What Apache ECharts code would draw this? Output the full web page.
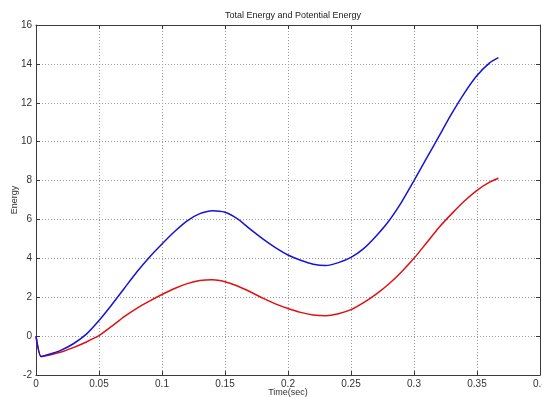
<!DOCTYPE html>
<html>
<head>
<meta charset="utf-8">
<style>
  html, body { margin: 0; padding: 0; background: #ffffff; }
  #chart { width: 542px; height: 397px; }
</style>
<script src="https://cdn.jsdelivr.net/npm/echarts@6/dist/echarts.min.js"></script>
</head>
<body>
<div id="chart"></div>
<script>
// Sample times (s)
const timeSec = [0, 0.004, 0.01, 0.02, 0.03, 0.04, 0.05, 0.06, 0.07, 0.08, 0.09, 0.10,
  0.11, 0.12, 0.13, 0.14, 0.15, 0.16, 0.17, 0.18, 0.19, 0.20, 0.21, 0.22, 0.23, 0.24,
  0.25, 0.26, 0.27, 0.28, 0.29, 0.30, 0.31, 0.32, 0.33, 0.34, 0.35, 0.36, 0.367];

// Total energy
const totalEnergy = [0, -1.05, -0.95, -0.72, -0.38, 0.1, 0.8, 1.6, 2.45, 3.3, 4.06, 4.74,
  5.38, 5.93, 6.3, 6.45, 6.37, 6.03, 5.5, 5.0, 4.55, 4.17, 3.9, 3.7, 3.63, 3.78,
  4.05, 4.5, 5.15, 5.92, 6.88, 8.0, 9.15, 10.3, 11.45, 12.5, 13.4, 14.05, 14.32];

// Potential energy
const potentialEnergy = [0, -1.05, -0.98, -0.82, -0.58, -0.3, 0.02, 0.5, 1.0, 1.43, 1.8, 2.14,
  2.45, 2.7, 2.86, 2.9, 2.8, 2.58, 2.28, 1.95, 1.66, 1.42, 1.22, 1.09, 1.05, 1.15,
  1.36, 1.72, 2.16, 2.68, 3.3, 4.0, 4.8, 5.6, 6.3, 6.95, 7.5, 7.92, 8.12];

const xTicks = { min: 0, max: 0.4, interval: 0.05 };
const yTicks = { min: -2, max: 16, interval: 2 };

const pairs = (ys) => timeSec.map((t, i) => [t, ys[i]]);

const axisColor = '#3a3a3a';
const font = '"Liberation Sans", Arial, sans-serif';

const gridLine = { show: true, lineStyle: { color: '#9a9a9a', type: [1, 2], width: 1 } };
const boxLine = { show: true, onZero: false, lineStyle: { color: axisColor, width: 1 } };
const inTick = { show: true, inside: true, length: 4, lineStyle: { color: axisColor } };

const chart = echarts.init(document.getElementById('chart'), null, { renderer: 'canvas' });
chart.setOption({
  animation: false,
  backgroundColor: '#ffffff',
  title: {
    text: 'Total Energy and Potential Energy',
    left: 288, top: 6, textAlign: 'center',
    textStyle: { fontFamily: font, fontSize: 9, fontWeight: 'normal', color: '#222' }
  },
  grid: { left: 36, top: 25, right: 2, bottom: 22, containLabel: false, outerBoundsMode: 'none' },
  xAxis: [{
    type: 'value', min: xTicks.min, max: xTicks.max, interval: xTicks.interval,
    name: 'Time(sec)', nameLocation: 'middle', nameGap: 13, nameMoveOverlap: false,
    nameTextStyle: { fontFamily: font, fontSize: 9, color: '#333' },
    axisLine: boxLine, axisTick: inTick,
    axisLabel: { fontFamily: font, fontSize: 10, color: '#333', margin: 4, hideOverlap: false },
    splitLine: gridLine
  }, {
    type: 'value', position: 'top', min: xTicks.min, max: xTicks.max, interval: xTicks.interval,
    axisLine: boxLine, axisTick: inTick,
    axisLabel: { show: false }, splitLine: { show: false }
  }],
  yAxis: [{
    type: 'value', min: yTicks.min, max: yTicks.max, interval: yTicks.interval,
    name: 'Energy', nameLocation: 'middle', nameGap: 17, nameRotate: 90, nameMoveOverlap: false,
    nameTextStyle: { fontFamily: font, fontSize: 9, color: '#333' },
    axisLine: boxLine, axisTick: inTick,
    axisLabel: { fontFamily: font, fontSize: 10, color: '#333', margin: 4 },
    splitLine: gridLine
  }, {
    type: 'value', position: 'right', min: yTicks.min, max: yTicks.max, interval: yTicks.interval,
    axisLine: boxLine, axisTick: inTick,
    axisLabel: { show: false }, splitLine: { show: false }
  }],
  series: [{
    name: 'Potential Energy', type: 'line', data: pairs(potentialEnergy),
    showSymbol: false, smooth: 0.2,
    lineStyle: { color: '#e01010', width: 1.5 }
  }, {
    name: 'Total Energy', type: 'line', data: pairs(totalEnergy),
    showSymbol: false, smooth: 0.2,
    lineStyle: { color: '#1414d8', width: 1.5 }
  }]
});
</script>
</body>
</html>
